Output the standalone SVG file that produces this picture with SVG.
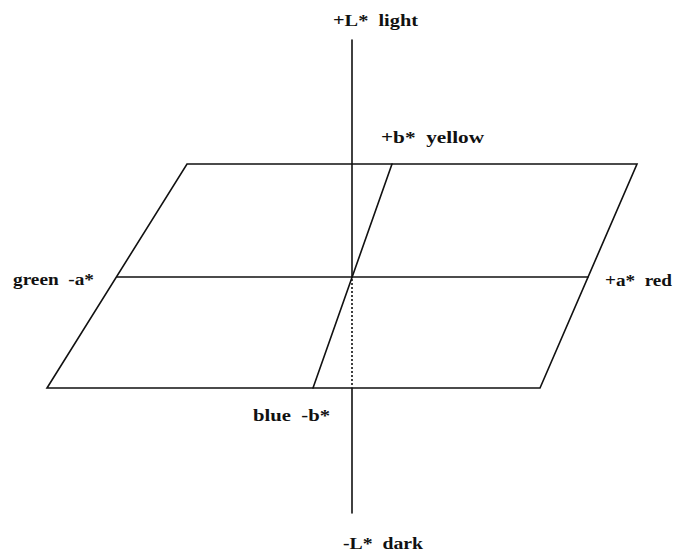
<svg xmlns="http://www.w3.org/2000/svg" width="677" height="555" viewBox="0 0 677 555">
<style>
.ln{stroke:#111;stroke-width:1.6;fill:none;stroke-linecap:round}
.dot{stroke:#111;stroke-width:1.6;fill:none;stroke-dasharray:2 2}
.t{font-family:"Liberation Serif","DejaVu Serif",serif;font-size:16px;font-weight:bold;fill:#111;white-space:pre}
</style>
<rect width="677" height="555" fill="#fff"/>
<g id="plane">
<polygon class="ln" points="187,164 637,164 540,388 47,388"/>
</g>
<g id="connectors">
<line id="a-axis" class="ln" x1="117" y1="277" x2="588" y2="277"/>
<line id="b-axis" class="ln" x1="392" y1="164" x2="313" y2="388"/>
<line id="L-axis-top" class="ln" x1="352" y1="40" x2="352" y2="277"/>
<line id="L-axis-hidden" class="dot" x1="352" y1="279" x2="352" y2="387"/>
<line id="L-axis-bottom" class="ln" x1="352" y1="388" x2="352" y2="513"/>
</g>
<g id="label-L-plus"><text class="t" x="333" y="26" textLength="85" lengthAdjust="spacingAndGlyphs">+L*  light</text></g>
<g id="label-b-plus"><text class="t" x="381" y="143" textLength="103" lengthAdjust="spacingAndGlyphs">+b*  yellow</text></g>
<g id="label-a-minus"><text class="t" x="13" y="285" textLength="81" lengthAdjust="spacingAndGlyphs">green  -a*</text></g>
<g id="label-a-plus"><text class="t" x="605" y="286" textLength="67" lengthAdjust="spacingAndGlyphs">+a*  red</text></g>
<g id="label-b-minus"><text class="t" x="253" y="421" textLength="77" lengthAdjust="spacingAndGlyphs">blue  -b*</text></g>
<g id="label-L-minus"><text class="t" x="343" y="549" textLength="80" lengthAdjust="spacingAndGlyphs">-L*  dark</text></g>
</svg>
